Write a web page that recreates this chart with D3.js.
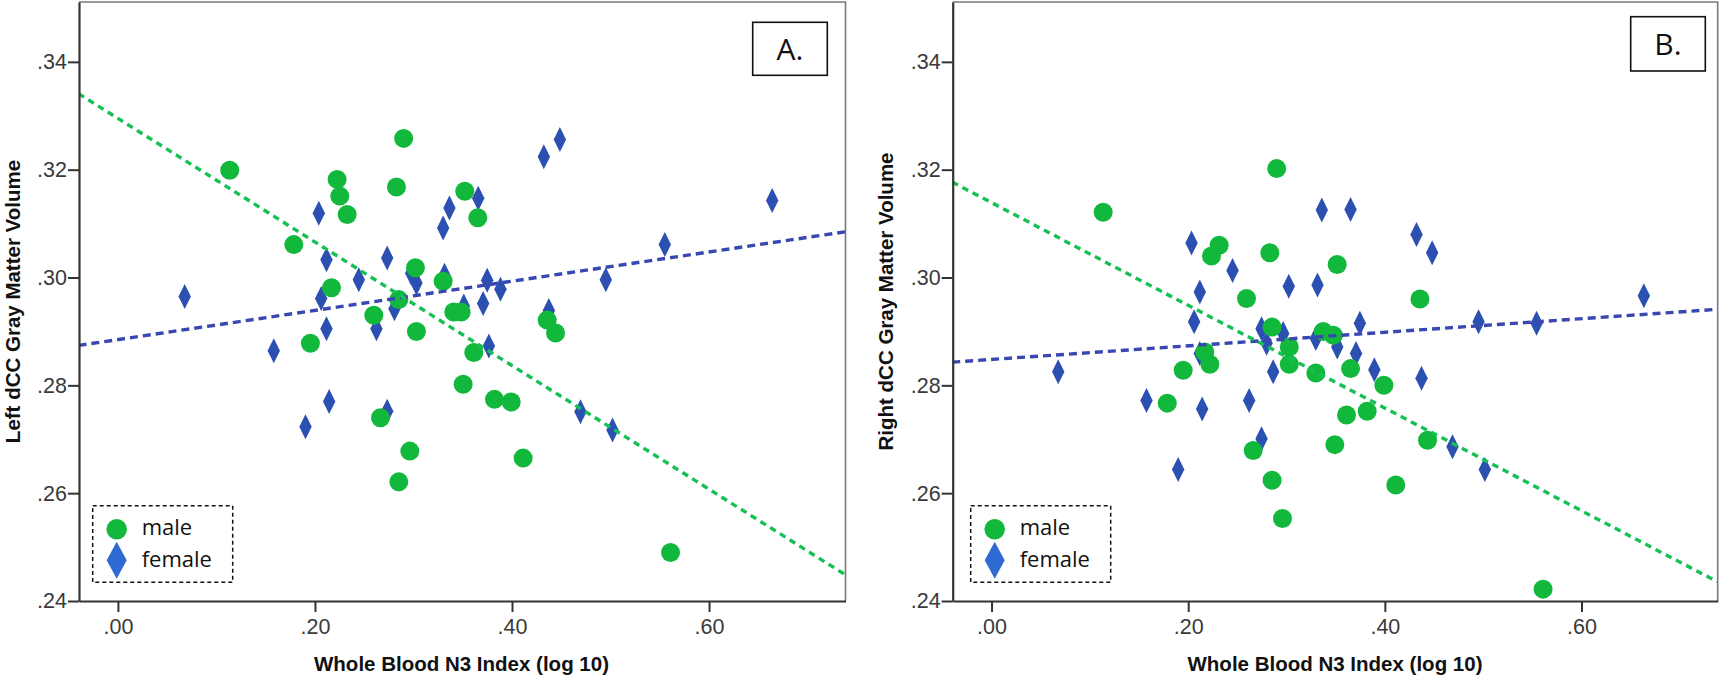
<!DOCTYPE html>
<html>
<head>
<meta charset="utf-8">
<script src="https://cdn.jsdelivr.net/npm/d3@7"></script>
<style>
  html, body { margin: 0; padding: 0; background: #fff; }
  svg { display: block; }
</style>
</head>
<body>
<svg id="chart" width="1722" height="676"></svg>
<script>
// ---------------- DATA ----------------
const yTicks = [0.24, 0.26, 0.28, 0.30, 0.32, 0.34];
const xTicks = [0.00, 0.20, 0.40, 0.60];
const legendLabels = ["male", "female"];
const panelLetters = ["A.", "B."];
const yTitles = ["Left dCC Gray Matter Volume", "Right dCC Gray Matter Volume"];
const xTitle = "Whole Blood N3 Index (log 10)";

// Panel A (Left dCC)
const maleXA = [0.1135,0.290,0.2225,0.2827,0.2252,0.2327,0.1785,0.302,0.2168,0.2851,0.2597,0.303,0.1954,0.2665,0.2963,0.2851,0.3521,0.3653,0.3301,0.3409,0.3484,0.4357,0.4442,0.3612,0.3504,0.3822,0.3992,0.4113,0.5609];
const maleYA = [0.3199,0.3258,0.3182,0.3168,0.3151,0.3117,0.3061,0.3018,0.2981,0.2959,0.2930,0.2900,0.2878,0.2740,0.2678,0.2621,0.3160,0.3111,0.2993,0.2936,0.2936,0.2921,0.2897,0.2861,0.2802,0.2774,0.2769,0.2665,0.2490];
const femaleXA = [0.0678,0.2039,0.2117,0.2733,0.2445,0.2063,0.2117,0.2977,0.303,0.2807,0.2624,0.1582,0.2144,0.1904,0.2733,0.4323,0.4486,0.3657,0.3365,0.3301,0.6641,0.5551,0.4952,0.3748,0.3883,0.3707,0.3315,0.3511,0.4374,0.3765,0.4695,0.502];
const femaleYA = [0.2965,0.3119,0.3033,0.3036,0.2996,0.2961,0.2905,0.3008,0.2990,0.2942,0.2905,0.2864,0.2770,0.2723,0.2752,0.3224,0.3256,0.3147,0.3129,0.3092,0.3143,0.3061,0.2996,0.2995,0.2978,0.2952,0.3004,0.2947,0.2939,0.2873,0.2751,0.2717];
const maleFitA = [[-0.04, 0.3341], [0.739, 0.2448]];
const femaleFitA = [[-0.04, 0.2874], [0.739, 0.3085]];

// Panel B (Right dCC)
const maleXB = [0.1135,0.2900,0.2315,0.2237,0.2830,0.2593,0.2853,0.1949,0.2169,0.2220,0.1787,0.2661,0.2853,0.2959,0.3028,0.3028,0.3515,0.4357,0.3374,0.3476,0.3298,0.3651,0.3990,0.3610,0.3820,0.3491,0.4434,0.4111,0.5609];
const maleYB = [0.3121,0.3202,0.3060,0.3040,0.3046,0.2961,0.2908,0.2828,0.2862,0.2839,0.2767,0.2679,0.2624,0.2553,0.2871,0.2839,0.3024,0.2960,0.2900,0.2893,0.2823,0.2831,0.2800,0.2745,0.2752,0.2690,0.2698,0.2615,0.2422];
const femaleXB = [0.2034,0.2451,0.2118,0.3023,0.2060,0.2746,0.0678,0.2118,0.1576,0.2142,0.2620,0.2864,0.2746,0.1898,0.2797,0.3359,0.3651,0.4322,0.4481,0.3315,0.6634,0.5543,0.4953,0.3746,0.2966,0.3298,0.3516,0.3707,0.3893,0.4373,0.4688,0.5017];
const femaleYB = [0.3064,0.3013,0.2973,0.2984,0.2918,0.2905,0.2825,0.2859,0.2772,0.2756,0.2772,0.2825,0.2701,0.2644,0.2878,0.3125,0.3126,0.3080,0.3046,0.2986,0.2966,0.2915,0.2918,0.2915,0.2896,0.2887,0.2871,0.2859,0.2829,0.2813,0.2686,0.2644];
const maleFitB = [[-0.04, 0.3177], [0.738, 0.2436]];
const femaleFitB = [[-0.04, 0.2843], [0.738, 0.2941]];

// ---------------- STYLE ----------------
const GREEN = "#12b83c";
const BLUE = "#2c50b2";
const LEGEND_BLUE = "#2f6ad2";
const GREEN_LINE = "#16c054";
const BLUE_LINE = "#3848b0";

const panels = [
  { left: 79, right: 845.5, mx: maleXA, my: maleYA, fx: femaleXA, fy: femaleYA, mfit: maleFitA, ffit: femaleFitA,
    letter: panelLetters[0], letterBox: [752.7, 22.3, 74.6, 53], yTitle: yTitles[0], yTitleX: 19.5, xTitleX: 461.5,
    legend: [92.7, 505.7, 140, 76.6] },
  { left: 952.7, right: 1717.7, mx: maleXB, my: maleYB, fx: femaleXB, fy: femaleYB, mfit: maleFitB, ffit: femaleFitB,
    letter: panelLetters[1], letterBox: [1630.7, 16.7, 74.6, 54.3], yTitle: yTitles[1], yTitleX: 893, xTitleX: 1335,
    legend: [970.7, 505.7, 140, 76.6] }
];

const svg = d3.select("#chart");
const plotTop = 2, plotBottom = 601;
const fmt = v => d3.format(".2f")(v).replace(/^0/, "");
const diamond = (hw, hh) => `M0,${-hh}L${hw},0L0,${hh}L${-hw},0Z`;

panels.forEach((p, i) => {
  const x = d3.scaleLinear().domain([-0.0395, 0.7385]).range([p.left, p.right]);
  const y = d3.scaleLinear().domain([0.24, 0.3511]).range([plotBottom, plotTop]);
  const g = svg.append("g");

  // frame top/right
  g.append("path")
    .attr("d", `M${p.left},${plotTop}H${p.right}V${plotBottom}`)
    .attr("fill", "none").attr("stroke", "#7a7a7a").attr("stroke-width", 1.6);

  const clipId = "clip" + i;
  svg.append("clipPath").attr("id", clipId).append("rect")
    .attr("x", p.left).attr("y", plotTop).attr("width", p.right - p.left).attr("height", plotBottom - plotTop);

  const plot = g.append("g").attr("clip-path", `url(#${clipId})`);

  // diamonds (female)
  plot.selectAll("path.f").data(d3.range(p.fx.length)).join("path")
    .attr("class", "f")
    .attr("transform", k => `translate(${x(p.fx[k])},${y(p.fy[k])})`)
    .attr("d", diamond(6.2, 12.5))
    .attr("fill", BLUE);

  // circles (male)
  plot.selectAll("circle.m").data(d3.range(p.mx.length)).join("circle")
    .attr("class", "m")
    .attr("cx", k => x(p.mx[k])).attr("cy", k => y(p.my[k]))
    .attr("r", 9.5).attr("fill", GREEN);

  // fit lines
  const line = d3.line().x(d => x(d[0])).y(d => y(d[1]));
  plot.append("path").attr("d", line(p.ffit)).attr("fill", "none")
    .attr("stroke", BLUE_LINE).attr("stroke-width", 3.4).attr("stroke-dasharray", "8,5");
  plot.append("path").attr("d", line(p.mfit)).attr("fill", "none")
    .attr("stroke", GREEN_LINE).attr("stroke-width", 3.4).attr("stroke-dasharray", "6.5,5");

  // axes
  const yAxis = d3.axisLeft(y).tickValues(yTicks).tickFormat(fmt).tickSize(11).tickSizeOuter(0).tickPadding(1);
  const xAxis = d3.axisBottom(x).tickValues(xTicks).tickFormat(fmt).tickSize(11).tickSizeOuter(0).tickPadding(7);

  const ya = g.append("g").attr("transform", `translate(${p.left},0)`).call(yAxis);
  const xa = g.append("g").attr("transform", `translate(0,${plotBottom})`).call(xAxis);
  [ya, xa].forEach(a => {
    a.select(".domain").attr("stroke", "#333").attr("stroke-width", 2.2);
    a.selectAll(".tick line").attr("stroke", "#333").attr("stroke-width", 2);
    a.selectAll(".tick text").attr("fill", "#3a3a3a")
      .style("font-family", "'Liberation Sans', Arial, sans-serif").style("font-size", "21.5px");
  });

  // axis titles
  g.append("text")
    .attr("transform", `translate(${p.yTitleX},301.5) rotate(-90)`)
    .attr("text-anchor", "middle")
    .style("font-family", "'Liberation Sans', Arial, sans-serif").style("font-size", "20.5px").style("font-weight", "bold")
    .attr("fill", "#111").text(p.yTitle);
  g.append("text")
    .attr("x", p.xTitleX).attr("y", 671)
    .attr("text-anchor", "middle")
    .style("font-family", "'Liberation Sans', Arial, sans-serif").style("font-size", "20.5px").style("font-weight", "bold")
    .attr("fill", "#111").text(xTitle);

  // panel letter box
  const [bx, by, bw, bh] = p.letterBox;
  g.append("rect").attr("x", bx).attr("y", by).attr("width", bw).attr("height", bh)
    .attr("fill", "#fff").attr("stroke", "#111").attr("stroke-width", 1.6);
  g.append("text").attr("x", bx + bw / 2).attr("y", by + bh / 2 + 11)
    .attr("text-anchor", "middle")
    .style("font-family", "'Open Sans', sans-serif").style("font-size", "30px")
    .attr("fill", "#111").text(p.letter);

  // legend
  const [lx, ly, lw, lh] = p.legend;
  const lg = g.append("g");
  lg.append("rect").attr("x", lx).attr("y", ly).attr("width", lw).attr("height", lh)
    .attr("fill", "#fff").attr("stroke", "#111").attr("stroke-width", 1.5).attr("stroke-dasharray", "4,3");
  lg.append("circle").attr("cx", lx + 24).attr("cy", ly + 23.5).attr("r", 10.3).attr("fill", GREEN);
  lg.append("path").attr("transform", `translate(${lx + 24},${ly + 54.5})`)
    .attr("d", diamond(10, 18.5)).attr("fill", LEGEND_BLUE);
  lg.selectAll("text.lt").data(legendLabels).join("text")
    .attr("class", "lt")
    .attr("x", lx + 49).attr("y", (d, k) => ly + 29.5 + k * 32)
    .style("font-family", "'Open Sans', sans-serif").style("font-size", "22px")
    .attr("fill", "#111").text(d => d);
});
</script>
</body>
</html>
